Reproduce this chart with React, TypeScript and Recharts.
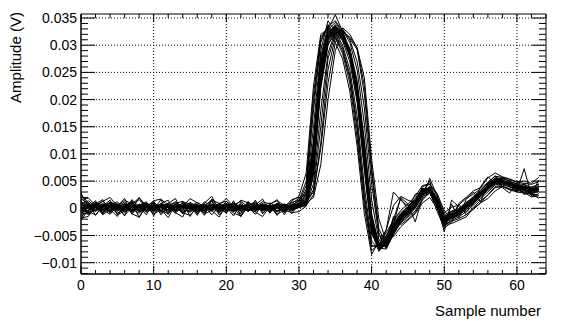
import React from "react";
import { LineChart, Line, XAxis, YAxis, ReferenceLine, ReferenceArea } from "recharts";

// Sample indices (x categories)
const samples = [
  0, 1, 2, 3, 4, 5, 6, 7, 8, 9, 10, 11, 12, 13, 14, 15, 16, 17, 18, 19, 20, 21, 22, 23, 24, 25, 26, 27, 28, 29, 30, 31,
  32, 33, 34, 35, 36, 37, 38, 39, 40, 41, 42, 43, 44, 45, 46, 47, 48, 49, 50, 51, 52, 53, 54, 55, 56, 57, 58, 59, 60, 61, 62, 63,
];

// Waveform amplitudes in mV (samples 0..63)
const t01 = [1.2, 0.4, -0.3, 0.8, 0.2, -0.6, 0.5, 1.1, 0.1, -0.4, 0.6, 0.2, -0.8, 0.3, 0.9, -0.2, 0.4, -0.5, 0.7, 0.1, -0.3, 0.6, 1.3, 0.2, -0.4, 0.5, 0.1, 0.8, -0.2, 0.4,
  0.9, 3.5, 18, 30.5, 33.8, 32, 29.5, 24.5, 15.5, 2.5, -6.8, -7.2, -5.2, -2.8, -1.2,
  -0.3, 1.2, 3.2, 3.8, 1.6, -1.8, -1.2, -0.4, 0.6, 1.8, 2.9, 4.2, 5.3, 4.9, 4.4, 3.9, 4.1, 3.2, 3.8];
const t02 = [-0.8, 0.3, 0.9, -0.2, -1.1, 0.4, 0.2, -0.5, 0.8, 0.3, -0.6, 0.9, 0.1, -0.3, 0.5, 1.0, -0.7, 0.2, 0.4, -0.9, 0.6, 0.0, -0.4, 1.1, 0.3, -0.2, 0.7, -0.5, 0.3, 0.6,
  1.4, 5, 21, 31.5, 33.2, 31.3, 28.5, 23, 13, 0.5, -7.8, -6.5, -4.5, -2.2, -0.8,
  0.2, 1.6, 3.6, 3.2, 1.2, -2.4, -1.5, -0.9, 0.2, 1.3, 2.4, 3.7, 4.9, 5.4, 4.2, 4.3, 3.5, 3.9, 3.1];
const t03 = [2.5, 1.0, 0.2, -0.4, 0.6, 1.2, -0.3, 0.4, 0.0, 0.9, -0.2, 0.5, 0.8, -0.6, 0.1, 0.4, 1.1, 0.2, -0.3, 0.5, 0.9, -0.4, 0.2, 0.6, -0.1, 0.8, 0.3, -0.6, 0.5, 0.2,
  0.6, 2.8, 15, 29, 34.5, 32.5, 30, 25.5, 17, 4, -6, -7.5, -5.8, -3.2, -1.6,
  -0.8, 0.9, 2.8, 4.1, 1.9, -1.5, -0.8, -0.2, 0.9, 2.2, 3.3, 4.5, 5.6, 5.1, 4.7, 3.6, 3.8, 3.4, 4.2];
const t04 = [-1.5, -0.4, 0.6, 0.1, -0.7, 0.3, 0.8, -0.2, -0.9, 0.4, 0.1, -0.5, 0.6, 0.2, -0.8, 0.3, 0.0, 0.7, -0.4, -0.1, 0.5, -0.6, 0.2, -0.3, 0.4, 0.0, -0.5, 0.3, 0.1, -0.2,
  0.4, 1.5, 9, 25, 31.5, 33.2, 31.5, 28, 21, 9, -3.5, -7.6, -6.2, -3.4, -1.8,
  -0.6, 0.6, 2.9, 3.4, 1.0, -2.2, -1.4, -0.6, 0.4, 1.6, 2.6, 3.9, 4.8, 4.6, 4.5, 4.0, 3.7, 3.3, 3.6];
const t05 = [0.6, 1.4, 0.3, -0.2, 1.0, 0.5, -0.4, 0.7, 1.6, 0.2, -0.3, 0.6, 0.4, 1.0, -0.1, 0.3, 0.8, -0.6, 0.2, 0.5, -0.2, 0.9, 0.3, 0.0, 0.6, -0.4, 0.4, 0.2, 0.7, 0.5,
  0.7, 2, 11, 27, 33, 35.6, 32.5, 29, 22, 10.5, -2.5, -7, -6.4, -3.6, -1.2,
  -0.2, 1.4, 3.3, 3.7, 1.4, -2.0, -1.0, -0.5, 0.7, 1.5, 2.8, 4.0, 5.1, 5.0, 4.1, 4.2, 3.9, 3.5, 3.4];
const t06 = [0.2, -0.6, -1.2, 0.4, 0.1, -0.3, 0.6, -0.8, 0.3, 1.0, 0.2, -0.4, -1.0, 0.5, 0.3, -0.5, 0.2, 0.4, -1.2, 0.3, 0.1, 0.5, -0.7, 0.4, 0.2, 0.9, -0.3, 0.1, -0.6, 0.0,
  0.2, 0.8, 7, 23, 30.5, 32.8, 31.8, 29, 22.5, 11, -2, -7.2, -6.8, -3.8, -2.0,
  -0.9, 0.4, 2.6, 3.1, 0.8, -2.6, -1.8, -1.1, 0.0, 1.1, 2.3, 3.5, 4.6, 4.8, 4.4, 3.7, 3.4, 3.0, 3.3];
const t07 = [1.8, 0.7, 0.1, 0.5, -0.5, -0.1, 0.9, 0.3, -0.6, -0.2, 0.7, 0.3, 0.1, -0.4, 0.6, 0.2, -0.9, 0.1, 0.8, 0.3, -0.5, 0.2, 0.6, -0.2, -0.6, 0.3, 0.5, 0.0, 0.4, -0.3,
  0.5, 1.2, 8.5, 24.5, 31.2, 33.5, 32, 28.8, 21.5, 9.5, -3, -7.8, -6.6, -2.9, -1.4,
  -0.4, 0.8, 3.0, 3.6, 1.8, -1.6, -0.6, -0.3, 0.5, 1.9, 3.0, 4.1, 5.0, 4.7, 4.8, 4.1, 3.6, 3.7, 3.9];
const t08 = [-0.4, 0.2, 1.0, 0.6, 0.3, -0.9, -0.2, 0.5, 0.2, -0.6, 1.2, 0.0, 0.3, 0.7, -0.2, -0.7, 0.5, 0.3, 0.1, 0.8, -0.4, 0.3, -0.1, 0.5, 0.9, 0.2, -0.2, 0.6, 0.0, 0.3,
  0.6, 1.8, 10, 26, 32, 33.8, 32.2, 28.2, 20.5, 8, -4, -7.4, -5.9, -3.1, -1.0,
  0.1, 1.1, 3.4, 3.3, 1.3, -1.9, -1.3, -0.7, 0.3, 1.4, 2.5, 3.8, 5.2, 5.3, 4.3, 3.8, 4.0, 3.1, 3.5];
const t09 = [0.9, -0.2, 0.4, 1.3, 0.0, 0.6, 0.2, -0.5, 0.4, 0.1, -0.8, 0.3, 0.6, 0.2, -0.4, 0.8, 0.3, -0.2, 0.5, -0.6, 0.3, 1.0, -0.2, 0.1, 0.4, -0.5, 0.2, 0.9, -0.3, 0.4,
  0.3, 1.0, 7.5, 23.5, 31, 33, 31.2, 28.5, 22.8, 11.5, -1.5, -6.8, -7.0, -4.2, -2.2,
  -1.2, 0.1, 2.4, 3.0, 0.6, -2.8, -2.0, -1.3, -0.2, 0.9, 2.1, 3.3, 4.5, 4.9, 4.6, 4.1, 3.2, 2.8, 3.0];
const t10 = [-0.2, 0.8, 0.3, -0.7, 0.5, 0.2, 1.2, -0.3, 0.1, 0.6, -0.4, 0.2, 1.0, -0.1, 0.3, 0.5, -0.3, 1.2, 0.4, 0.0, 0.6, -0.2, 0.3, 0.8, -0.4, 0.1, 0.6, 0.2, -0.1, 0.5,
  0.8, 2.5, 12, 27.5, 32.5, 33, 30.8, 27, 19.5, 7, -4.8, -7.0, -4.0, 3.0, 1.5,
  0.4, 1.8, 3.7, 3.5, 1.7, -1.2, -0.5, 0.0, 1.1, 2.0, 3.2, 4.6, 5.4, 5.6, 5.0, 4.5, 4.4, 3.8, 4.5];
const t11 = [0.4, -1.0, -0.3, 0.2, 0.9, -0.4, 0.0, 0.6, -0.2, 0.3, 0.5, -0.6, 0.2, -0.9, 0.4, 0.1, 0.6, -0.4, 0.0, 0.3, -0.8, 0.4, 0.1, -0.5, 0.2, 0.6, -0.1, -0.7, 0.3, 0.1,
  0.1, 0.6, 6, 22, 30, 32.5, 31.5, 29.5, 23.5, 12.5, -1, -6.5, -7.2, -4.5, -2.5,
  -1.4, 0.0, 2.2, 2.8, 0.4, -3.2, -2.2, -1.6, -0.6, 0.6, 1.8, 3.0, 4.3, 4.4, 3.9, 3.5, 3.0, 2.6, 2.4];
const t12 = [1.0, 0.5, -0.5, 0.7, 0.3, 0.9, -0.6, 0.2, 0.4, -0.3, 0.3, 0.8, -0.4, 0.1, 0.6, -0.2, 0.4, 0.0, -0.5, 0.7, 0.2, -0.3, 0.5, 0.2, -0.2, 0.4, 1.0, 0.3, -0.4, 0.6,
  0.9, 2.2, 10.5, 26.5, 32.2, 33.6, 31.6, 28.3, 21.2, 8.8, -3.8, -7.3, -6.0, -3.3, -1.6,
  -0.5, 0.7, 2.8, 3.9, 1.5, -2.1, -1.1, -0.5, 0.4, 1.7, 2.7, 4.0, 4.9, 5.0, 4.3, 3.9, 3.8, 3.6, 3.7];
const t13 = [-1.0, 0.1, 0.6, -0.4, 0.2, 0.4, -0.8, 0.3, 0.7, -0.1, 0.2, -0.4, 0.5, 0.3, -0.6, 0.2, 0.7, 0.1, -0.3, 0.4, 0.0, -0.6, 0.4, 0.1, 0.3, -0.3, 0.5, 0.1, 0.2, -0.4,
  0.3, 0.7, 4.5, 18, 28.5, 32.5, 32.8, 30.5, 25.5, 15.5, 1.5, -5.8, -7.0, -4.6, -2.3,
  -1.0, 0.5, 2.5, 3.2, 0.9, -2.5, -1.6, -1.0, 0.1, 1.2, 2.2, 3.6, 4.7, 4.5, 4.0, 3.6, 3.3, 2.9, 3.2];
const t14 = [0.3, 0.9, -0.1, 0.2, -0.6, 0.5, 0.3, 1.0, -0.4, 0.2, 0.6, 0.1, -0.3, 0.7, 0.2, -0.1, -0.5, 0.6, 0.2, 0.9, -0.2, 0.3, 0.7, -0.4, 0.1, 0.5, -0.2, 0.4, 0.6, 0.2,
  0.4, 0.8, 3.5, 15, 27.5, 32, 33, 31, 27, 18.5, 4.5, -5, -6.8, -4.2, -1.9,
  -0.7, 0.9, 3.1, 3.6, 1.2, -2.0, -1.3, -0.8, 0.2, 1.3, 2.6, 3.9, 5.0, 5.2, 4.6, 4.0, 3.7, 3.4, 3.3];
const t15 = [0.0, -0.5, 0.8, 0.3, 0.6, -0.2, 0.1, -0.7, 0.5, 0.8, -0.3, 0.4, 0.2, -0.2, 1.1, 0.3, -0.4, 0.2, 0.6, -0.3, 0.4, 0.7, 0.0, -0.5, 0.6, 0.2, -0.1, 0.5, 0.8, 0.1,
  0.2, 0.5, 2.5, 12, 25.5, 31.5, 32.8, 31.2, 29.2, 21, 6.5, -4.5, -7.4, -4.8, -2.4,
  -1.1, 0.3, 2.7, 3.4, 1.1, -2.3, -1.7, -1.2, -0.3, 1.0, 2.4, 3.7, 4.6, 4.7, 4.2, 3.9, 3.5, 3.1, 3.5];
const t16 = [-2.2, -0.3, 0.5, -1.0, 0.4, 0.1, -1.3, 0.2, -0.4, 0.6, 0.3, -0.9, -0.2, 0.4, -1.0, 0.5, 0.2, -0.6, 0.3, -0.2, -0.7, 0.4, -0.3, 0.2, -1.1, 0.6, 0.0, -0.4, 0.3, -0.5,
  0.2, 1.3, 9.5, 25.5, 31.8, 33.4, 31.4, 27.8, 20.8, 8.5, -3.2, -7.7, -6.3, -3.0, 2.0,
  0.8, -2.5, 2.0, 5.5, 2.3, -1.5, -1.0, -0.3, 0.8, 1.9, 3.0, 4.2, 5.1, 4.9, 4.5, 4.1, 3.9, 3.5, 3.8];
const t17 = [0.7, 0.2, -0.6, 0.4, 1.1, -0.2, 0.3, 0.6, -0.5, 0.2, 0.9, 0.4, -0.3, 0.1, 0.5, -0.7, 0.3, 0.8, -0.1, 0.3, 0.5, -0.2, 0.1, 0.6, -0.3, 0.4, 0.2, 0.7, -0.4, 0.2,
  0.5, 1.6, 9.2, 25.2, 31.6, 33.2, 31.3, 28.1, 21.4, 9.2, -3.4, -7.1, -6.1, -3.5, -1.7,
  -0.6, 0.5, 2.7, 3.0, 0.5, -4.3, 1.5, 0.3, -0.8, 0.8, 4.0, 5.8, 4.5, 4.0, 3.5, 3.2, 7.3, 2.2, 2.7];
const t18 = [-0.6, 0.5, 0.2, 0.9, -0.3, 0.0, 0.4, -0.5, 0.6, 0.3, -0.1, 0.7, -0.6, 0.2, 0.4, 0.9, -0.2, -0.4, 0.5, 0.2, 0.8, -0.5, 0.3, 0.2, 0.6, -0.2, 0.3, 0.4, -0.3, 0.7,
  1.2, 4.2, 19.5, 31, 33.5, 31.6, 29, 24, 14.5, 1.5, -7.0, -6.8, -5.0, -2.6, -1.1,
  -0.1, 1.3, 3.5, 3.6, 1.5, -1.7, -1.0, -0.4, 0.5, 1.6, 2.8, 3.9, 5.0, 5.1, 4.5, 4.2, 3.6, 3.8, 3.2];
const t19 = [0.1, 0.6, 0.3, -0.8, 0.2, 0.7, 0.0, -0.3, 2.0, 0.4, -0.5, 0.2, 0.5, -0.3, 0.8, 0.1, -0.6, 0.4, 0.0, 0.6, 1.8, 0.3, -0.4, 0.5, 0.1, -0.2, 0.6, 0.3, -0.6, 0.3,
  0.6, 1.4, 8.8, 24.8, 31.4, 33.3, 31.9, 28.6, 21.9, 10, -2.8, -7.4, -6.5, -3.7, -1.9,
  -0.8, 0.6, 3.1, 3.5, 1.1, -2.3, -1.5, -0.9, 0.1, 1.4, 2.5, 4.1, 5.6, 5.5, 4.9, 4.4, 4.0, 3.9, 4.4];
const t20 = [-0.3, -0.8, 0.4, 0.6, -0.2, 0.3, -0.5, 0.9, 0.2, -0.7, 0.1, 0.5, 0.3, -0.5, 0.2, 0.6, 0.1, -0.2, 0.7, -0.5, 0.2, 0.4, -0.1, 0.3, 0.5, 0.0, -0.6, 0.2, 0.5, 0.0,
  0.4, 1.1, 8.2, 24.2, 31, 32.9, 31.7, 28.9, 22.4, 10.8, -2.2, -7.6, -6.7, -3.9, -1.5,
  -0.4, 1.0, 3.3, 3.8, 1.9, -1.9, -1.2, -0.6, 0.6, 1.5, 2.9, 4.3, 5.3, 4.8, 4.3, 3.9, 4.1, 3.4, 4.0];
const t21 = [1.5, -1.2, 0.8, 1.6, -0.9, 0.4, 1.8, -1.1, 0.6, 1.2, -1.4, 0.9, 1.5, -0.8, -1.6, 1.1, 0.3, -1.3, 1.7, 0.2, -0.9, 1.4, -1.5, 0.5, 1.2, -1.0, 0.7, 1.6, -0.8, 0.9,
  1.8, 2.6, 11.5, 26.8, 32.8, 34.2, 32.4, 28.4, 20.2, 7.6, -4.4, -7.9, -5.6, -2.0, 1.8,
  -0.2, 2.6, 3.0, 5.0, 0.2, -3.4, 0.8, -1.8, 1.6, 3.0, 1.2, 4.6, 6.0, 4.0, 5.2, 3.0, 4.6, 2.4, 5.2];
const t22 = [-2.0, 1.1, -1.3, 0.4, 1.5, -1.2, -0.5, 1.3, -1.7, 0.8, -0.3, 1.6, -1.1, 0.9, 1.3, -1.5, 0.6, -0.9, 1.4, -1.2, 0.3, -1.4, 1.1, -0.6, 1.5, -0.9, 0.4, -1.3, 0.8, -1.0,
  1.0, 1.2, 3.0, 11, 23, 30.5, 33.2, 32, 29.5, 22.5, 7.5, -3.8, -6.5, -1.5, -3.0,
  -2.0, -0.8, 1.5, 3.0, -0.5, -3.6, -2.6, 0.8, -1.2, -0.2, 1.0, 2.5, 4.0, 3.8, 2.8, 4.8, 2.5, 3.2, 1.8];
const t23 = [2.8, 0.2, 1.4, -1.0, 1.2, 0.6, -1.4, 1.6, 0.3, -1.2, 1.3, -0.6, 0.9, 1.8, -1.0, 0.5, -1.3, 1.0, 2.2, -0.4, 1.3, 0.0, -1.5, 1.0, 0.6, 1.7, -0.8, 0.9, -1.2, 1.4,
  2.2, 6.5, 22.5, 32, 33, 30.5, 27.5, 21.5, 11.5, -1.0, -8.5, -6.0, -4.0, 0.5, 2.2,
  1.5, 1.0, 4.0, 4.4, 2.8, -0.5, -1.8, 0.9, 2.0, 3.2, 3.8, 5.6, 6.5, 5.8, 5.4, 4.9, 5.0, 4.6, 5.7];
const t24 = [-1.8, -1.5, 0.4, -1.2, -0.2, -1.5, 0.8, -1.0, -1.6, 0.3, -1.1, -0.2, -1.7, 0.6, -0.8, -1.3, 0.2, -1.0, -0.4, -1.6, 0.5, -0.9, -1.4, 0.2, -0.7, -1.5, 0.4, -1.1, -0.3, -0.8,
  -0.6, 0.4, 6.5, 22.8, 30.2, 32.2, 31, 28.5, 22.2, 11.8, -1.8, -7.3, -7.5, -4.8, -2.7,
  -1.6, -0.5, 1.8, 2.8, 0.3, -2.9, -2.4, -1.9, -1.2, 0.2, 1.4, 2.4, 3.8, 4.1, 3.6, 3.3, 2.9, 2.1, 2.3];
const t25 = [1.6, 1.9, 0.6, 1.3, 2.0, 0.4, 1.5, 0.8, 1.9, 0.2, 1.4, 1.7, 0.5, 1.2, 0.3, 1.8, 1.0, 0.4, 1.6, 0.9, 1.3, 0.2, 1.5, 1.0, 0.3, 1.2, 0.8, 1.4, 0.5, 1.1,
  1.5, 3.0, 12.5, 28, 33.5, 34.5, 32.6, 29.2, 22.6, 10.2, -2.0, -6.6, -5.4, -2.2, -0.4,
  0.8, 2.2, 4.2, 4.5, 2.4, -0.8, 0.2, 0.6, 1.8, 2.6, 3.6, 4.8, 5.9, 5.7, 5.3, 4.8, 4.6, 4.4, 4.9];
const t26 = [0.5, -0.9, 1.2, -0.3, 0.9, -1.1, 0.2, 1.4, -0.7, 0.6, 1.0, -1.2, 0.4, -0.5, 1.2, 0.8, -1.0, 0.3, 1.5, -0.6, 0.9, 0.2, -1.0, 1.3, -0.4, 0.7, -0.9, 1.0, 0.2, 1.6,
  2.0, 1.0, 2.0, 8.0, 20.0, 29.0, 32.5, 31.5, 29.6, 24.0, 9.0, -2.0, -6.0, -5.2, -3.4,
  -2.2, -1.0, 1.0, 2.0, 0.0, -3.0, -2.8, -2.2, -1.6, 0.0, 1.0, 1.8, 3.2, 4.0, 3.4, 3.0, 2.8, 2.6, 1.9];

const traces = [t01, t02, t03, t04, t05, t06, t07, t08, t09, t10, t11, t12, t13, t14, t15, t16, t17, t18, t19, t20, t21, t22, t23, t24, t25, t26];

// Tick labels
const xMajorTicks = [0, 10, 20, 30, 40, 50, 60];
const xTickLabels = ["0", "10", "20", "30", "40", "50", "60"];
const yMajorTicks = [-10, -5, 0, 5, 10, 15, 20, 25, 30, 35];
const yTickLabels = ["\u22120.01", "\u22120.005", "0", "0.005", "0.01", "0.015", "0.02", "0.025", "0.03", "0.035"];

const data = samples.map((s, i) => {
  const row: Record<string, number> = { sample: s };
  traces.forEach((t, k) => {
    row["t" + k] = t[i];
  });
  return row;
});

// layout
const W = 581;
const H = 326;
const PL = 81;
const PR = 546;
const PT = 14;
const PB = 274;
const FONT = "'Liberation Sans', Arial, Helvetica, sans-serif";

const xTicks: number[] = [];
for (let v = 0; v <= 64; v += 2) xTicks.push(v);
const yTicks: number[] = [];
for (let v = -12; v <= 35; v += 1) yTicks.push(v);

function XTick(props: any) {
  const { x, payload } = props;
  const v = payload.value;
  const mi = xMajorTicks.indexOf(v);
  const major = mi >= 0;
  const len = major ? 8 : 4;
  return (
    <g>
      <line x1={x} x2={x} y1={PB} y2={PB - len} stroke="#000" strokeWidth={1} />
      <line x1={x} x2={x} y1={PT} y2={PT + len} stroke="#000" strokeWidth={1} />
      {major && (
        <text x={x} y={290} textAnchor="middle" fontSize={14} fontFamily={FONT} fill="#000">
          {xTickLabels[mi]}
        </text>
      )}
    </g>
  );
}

function YTick(props: any) {
  const { y, payload } = props;
  const v = payload.value;
  const mi = yMajorTicks.indexOf(v);
  const major = mi >= 0;
  const len = major ? 14 : 7;
  return (
    <g>
      <line x1={PL} x2={PL + len} y1={y} y2={y} stroke="#000" strokeWidth={1} />
      <line x1={PR} x2={PR - len} y1={y} y2={y} stroke="#000" strokeWidth={1} />
      {major && (
        <text x={77} y={y + 5} textAnchor="end" fontSize={14} fontFamily={FONT} fill="#000">
          {yTickLabels[mi]}
        </text>
      )}
    </g>
  );
}

export default function App() {
  return (
    <div style={{ position: "absolute", left: 0, top: 0, width: W, height: H, background: "#fff" }}>
      <LineChart
        width={W}
        height={H}
        data={data}
        margin={{ top: PT, right: W - PR, bottom: 22, left: 11 }}
      >
        <XAxis
          dataKey="sample"
          type="number"
          domain={[0, 64]}
          ticks={xTicks}
          interval={0}
          height={30}
          tickLine={false}
          axisLine={{ stroke: "#000" }}
          tick={(p: any) => <XTick {...p} />}
          label={() => (
            <text x={541} y={316} textAnchor="end" fontSize={15} fontFamily={FONT} fill="#000">
              Sample number
            </text>
          )}
        />
        <YAxis
          type="number"
          domain={[-12.08, 35.74]}
          ticks={yTicks}
          interval={0}
          width={70}
          tickLine={false}
          axisLine={{ stroke: "#000" }}
          tick={(p: any) => <YTick {...p} />}
          label={() => (
            <text
              x={21}
              y={57.5}
              transform="rotate(-90, 21, 57.5)"
              textAnchor="middle"
              fontSize={15}
              fontFamily={FONT}
              fill="#000"
            >
              Amplitude (V)
            </text>
          )}
        />
        {yMajorTicks.map((v) => (
          <ReferenceLine key={"gy" + v} y={v} stroke="#000" strokeDasharray="1 2" strokeWidth={1} />
        ))}
        {xMajorTicks.filter((v) => v > 0).map((v) => (
          <ReferenceLine key={"gx" + v} x={v} stroke="#000" strokeDasharray="1 2" strokeWidth={1} />
        ))}
        <ReferenceArea x1={0} x2={64} y1={-12.08} y2={35.74} fill="none" stroke="#000" strokeWidth={1} />
        {traces.map((_, k) => (
          <Line
            key={"t" + k}
            dataKey={"t" + k}
            stroke="#000"
            strokeWidth={1}
            dot={false}
            activeDot={false}
            isAnimationActive={false}
          />
        ))}
      </LineChart>
    </div>
  );
}
